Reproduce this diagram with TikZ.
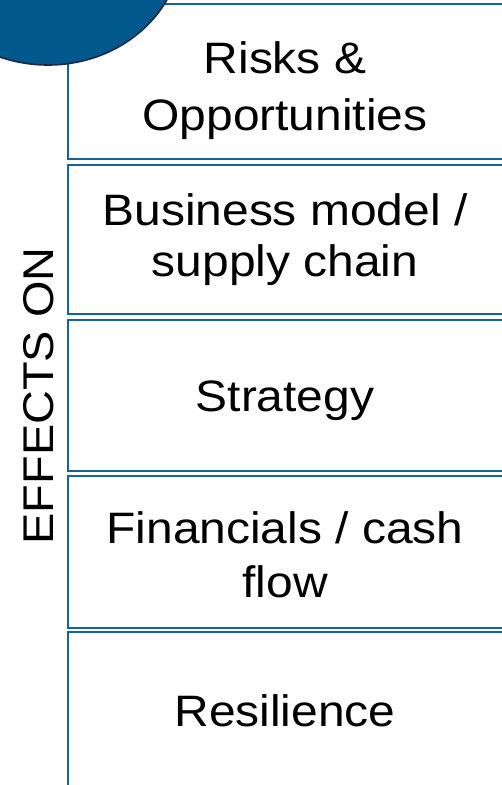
\documentclass[tikz,border=0pt]{standalone}
\usepackage{fontspec}
\setmainfont{Liberation Sans}[FakeStretch=1.09]
\definecolor{boxblue}{RGB}{24,98,155}
\definecolor{discfill}{RGB}{0,88,140}
\definecolor{discline}{RGB}{28,38,78}
\begin{document}
\begin{tikzpicture}[x=1pt,y=-1pt,
  rowbox/.style={draw=boxblue,line width=2pt,rectangle,inner sep=0pt,outer sep=0pt,minimum width=437pt},
  lbl/.style={align=center,inner sep=0pt,text=black}]
\useasboundingbox (0,0) rectangle (502,785);
\clip (0,0) rectangle (502,785);
\fill[white] (0,0) rectangle (502,785);
% rows
\node[rowbox,minimum height=155pt] (b1) at (286.5,81.5) {};
\node[rowbox,minimum height=149pt] (b2) at (286.5,239.5) {};
\node[rowbox,minimum height=151pt] (b3) at (286.5,395.5) {};
\node[rowbox,minimum height=152pt] (b4) at (286.5,552) {};
\node[rowbox,minimum height=158pt] (b5) at (286.5,711) {};
% labels
\node[lbl,font=\fontsize{44}{57}\selectfont] (t1) at (285,91) {Risks \&\\Opportunities};
\node[lbl,font=\fontsize{44}{51}\selectfont] (t2) at (285,240) {Business model /\\supply chain};
\node[lbl,font=\fontsize{44}{53}\selectfont] (t3) at (285,401) {Strategy};
\node[lbl,font=\fontsize{44}{54}\selectfont] (t4) at (285,555) {Financials / cash\\flow};
\node[lbl,font=\fontsize{44}{53}\selectfont] (t5) at (285,710.5) {Resilience};
% side label
\node[lbl,font=\fontsize{43}{53}\selectfont,rotate=90,anchor=base] (side) at (53,396) {EFFECTS ON};
% disc
\draw[fill=discfill,draw=discline,line width=1.6pt] (48,-56) ellipse [x radius=134pt, y radius=121pt];
\end{tikzpicture}
\end{document}
